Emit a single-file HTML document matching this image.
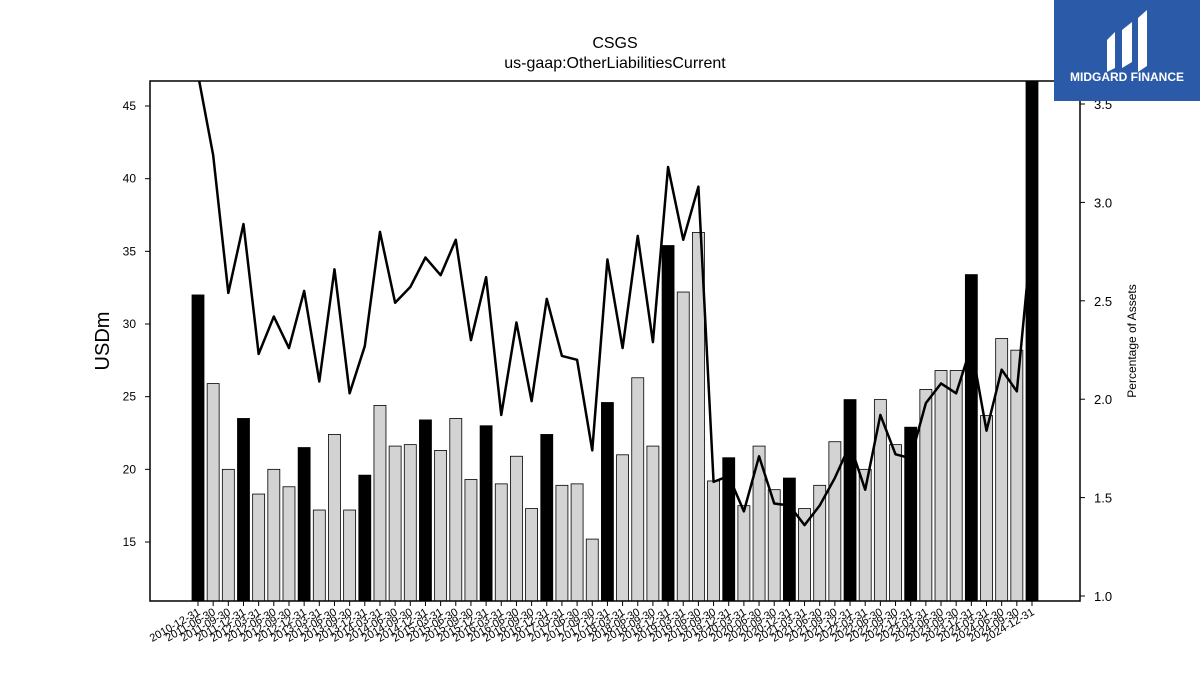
<!DOCTYPE html>
<html><head><meta charset="utf-8"><style>
html,body{margin:0;padding:0;background:#fff;}
svg{display:block;font-family:"Liberation Sans","DejaVu Sans",sans-serif;}
</style></head><body>
<svg id="chart" width="1200" height="675" viewBox="0 0 1200 675">
<text x="615" y="48" text-anchor="middle" font-size="16">CSGS</text>
<text x="615" y="68" text-anchor="middle" font-size="16">us-gaap:OtherLiabilitiesCurrent</text>
<defs><clipPath id="pc"><rect x="150" y="81" width="930" height="520"/></clipPath></defs>
<g id="bars" clip-path="url(#pc)"></g>
<g id="line" clip-path="url(#pc)"></g>
<rect x="150" y="81" width="930" height="520" fill="none" stroke="#000" stroke-width="1.5"/>
<g id="axes"></g>
<text transform="translate(109,341) rotate(-90)" text-anchor="middle" font-size="20">USDm</text>
<text transform="translate(1136,341) rotate(-90)" text-anchor="middle" font-size="12">Percentage of Assets</text>
<g>
<rect x="1054" y="0" width="146" height="101" fill="#2b5aa9"/>
<path d="M1107 40 L1115 32 L1115 68 L1107 72 Z M1122 30 L1132 22 L1132 62 L1122 68 Z M1138 18 L1147 10 L1147 66 L1138 72 Z" fill="#fff"/>
<text x="1127" y="81" text-anchor="middle" font-size="12" font-weight="bold" fill="#fff">MIDGARD FINANCE</text>
</g>
</svg>
<script>
const dates=["2010-12-31","2011-06-30","2011-09-30","2011-12-31","2012-03-31","2012-06-30","2012-09-30","2012-12-31","2013-03-31","2013-06-30","2013-09-30","2013-12-31","2014-03-31","2014-06-30","2014-09-30","2014-12-31","2015-03-31","2015-06-30","2015-09-30","2015-12-31","2016-03-31","2016-06-30","2016-09-30","2016-12-31","2017-03-31","2017-06-30","2017-09-30","2017-12-31","2018-03-31","2018-06-30","2018-09-30","2018-12-31","2019-03-31","2019-06-30","2019-09-30","2019-12-31","2020-03-31","2020-06-30","2020-09-30","2020-12-31","2021-03-31","2021-06-30","2021-09-30","2021-12-31","2022-03-31","2022-06-30","2022-09-30","2022-12-31","2023-03-31","2023-06-30","2023-09-30","2023-12-31","2024-03-31","2024-06-30","2024-09-30","2024-12-31"];
const liabilities=[32.0,25.9,20.0,23.5,18.3,20.0,18.8,21.5,17.2,22.4,17.2,19.6,24.4,21.6,21.7,23.4,21.3,23.5,19.3,23.0,19.0,20.9,17.3,22.4,18.9,19.0,15.2,24.6,21.0,26.3,21.6,35.4,32.2,36.3,19.2,20.8,17.5,21.6,18.6,19.4,17.3,18.9,21.9,24.8,20.0,24.8,21.7,22.9,25.5,26.8,26.8,33.4,23.7,29.0,28.2,48.0];
const pctAssets=[3.65,3.24,2.54,2.89,2.23,2.42,2.26,2.55,2.09,2.66,2.03,2.27,2.85,2.49,2.57,2.72,2.63,2.81,2.30,2.62,1.92,2.39,1.99,2.51,2.22,2.20,1.74,2.71,2.26,2.83,2.29,3.18,2.81,3.08,1.58,1.61,1.43,1.71,1.47,1.46,1.36,1.46,1.60,1.77,1.54,1.92,1.72,1.70,1.98,2.08,2.03,2.27,1.84,2.15,2.04,2.85];
const leftTicks=[15,20,25,30,35,40,45];
const rightTicks=["1.0","1.5","2.0","2.5","3.0","3.5"];

const NS="http://www.w3.org/2000/svg";
const yL=v=>542-(v-15)*14.533;
const yR=v=>596-(v-1)*196.8;
const xI=i=>198+i*(834/(dates.length-1));
function mk(tag,attrs,parent){const e=document.createElementNS(NS,tag);for(const k in attrs)e.setAttribute(k,attrs[k]);parent.appendChild(e);return e;}
const bars=document.getElementById('bars'),line=document.getElementById('line'),axes=document.getElementById('axes');
const bw=12;
liabilities.forEach((v,i)=>{
  const annual=dates[i].endsWith("12-31");
  const r=mk('rect',{x:xI(i)-bw/2,y:yL(v),width:bw,height:601-yL(v),fill:annual?'#000':'#d3d3d3',stroke:'#000','stroke-width':0.8},bars);
  
  
});
const pts=pctAssets.map((v,i)=>xI(i)+','+yR(v)).join(' ');
const pl=mk('polyline',{points:pts,fill:'none',stroke:'#000','stroke-width':2.5,'stroke-linejoin':'round'},line);


leftTicks.forEach(t=>{
  const y=yL(t);
  mk('line',{x1:145,x2:150,y1:y,y2:y,stroke:'#000'},axes);
  const tx=mk('text',{x:136,y:y+4,'text-anchor':'end','font-size':12},axes);
  tx.textContent=t;
  
  
});
rightTicks.forEach(t=>{
  const y=yR(parseFloat(t));
  mk('line',{x1:1080,x2:1085,y1:y,y2:y,stroke:'#000'},axes);
  const tx=mk('text',{x:1094,y:y+5,'font-size':13},axes);
  tx.textContent=t;
  
  
});
dates.forEach((d,i)=>{
  const x=xI(i);
  mk('line',{x1:x,x2:x,y1:601,y2:606,stroke:'#000'},axes);
  const tx=mk('text',{x:x+3,y:614,'text-anchor':'end','font-size':11,transform:`rotate(-30 ${x+3} 614)`},axes);
  tx.textContent=d;
  
  
});
</script>
</body></html>
